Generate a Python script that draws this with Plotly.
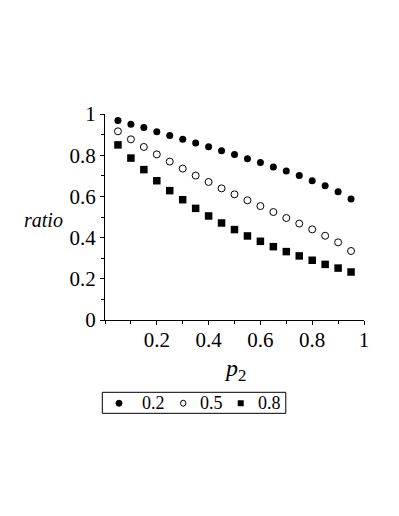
import plotly.graph_objects as go

p2 = [0.05, 0.10, 0.15, 0.20, 0.25, 0.30, 0.35, 0.40, 0.45, 0.50,
      0.55, 0.60, 0.65, 0.70, 0.75, 0.80, 0.85, 0.90, 0.95]

ratio_02 = [0.968, 0.950, 0.934, 0.914, 0.896, 0.877, 0.859, 0.841, 0.822, 0.804,
            0.783, 0.764, 0.743, 0.723, 0.701, 0.676, 0.652, 0.623, 0.587]
ratio_05 = [0.916, 0.877, 0.840, 0.804, 0.769, 0.735, 0.701, 0.670, 0.639, 0.610,
            0.581, 0.553, 0.524, 0.495, 0.468, 0.440, 0.409, 0.377, 0.335]
ratio_08 = [0.850, 0.786, 0.730, 0.676, 0.628, 0.584, 0.542, 0.505, 0.471, 0.439,
            0.408, 0.382, 0.356, 0.332, 0.311, 0.290, 0.270, 0.252, 0.233]

series_names = ["0.2", "0.5", "0.8"]

x_ticks = [0.2, 0.4, 0.6, 0.8, 1.0]
x_labels = ["0.2", "0.4", "0.6", "0.8", "1"]
y_ticks = [0, 0.2, 0.4, 0.6, 0.8, 1.0]
y_labels = ["0", "0.2", "0.4", "0.6", "0.8", "1"]

serif = "Liberation Serif, Times New Roman, serif"

fig = go.Figure()
fig.add_trace(go.Scatter(x=p2, y=ratio_02, mode="markers", name=series_names[0],
                         marker=dict(symbol="circle", size=7, color="black")))
fig.add_trace(go.Scatter(x=p2, y=ratio_05, mode="markers", name=series_names[1],
                         marker=dict(symbol="circle-open", size=7, color="black",
                                     line=dict(width=1))))
fig.add_trace(go.Scatter(x=p2, y=ratio_08, mode="markers", name=series_names[2],
                         marker=dict(symbol="square", size=7.5, color="black")))

# axis titles as annotations (y title is horizontal in the reference)
fig.add_annotation(text="<i>ratio</i>", xref="paper", yref="paper", x=-0.237, y=0.485,
                   xanchor="center", yanchor="middle",
                   showarrow=False, font=dict(family=serif, size=20, color="black"))
fig.add_annotation(text="<i>p</i><sub>2</sub>", xref="paper", yref="paper", x=0.5, y=-0.245,
                   xanchor="center", yanchor="middle",
                   showarrow=False, font=dict(family=serif, size=24, color="black"))

# legend drawn by hand (boxed, single row, compact like the original)
leg_y = -0.404
fig.add_shape(type="rect", xref="paper", yref="paper", x0=-0.0104, x1=0.698,
              y0=-0.453, y1=-0.351, line=dict(color="black", width=1), fillcolor="white")
sym = dict(xref="paper", yref="paper", xsizemode="pixel", ysizemode="pixel",
           yanchor=leg_y, y0=-3, y1=3)
fig.add_shape(type="circle", xanchor=0.054, x0=-3, x1=3,
              line=dict(color="black", width=1), fillcolor="black", **sym)
fig.add_shape(type="circle", xanchor=0.302, x0=-2.7, x1=2.7,
              line=dict(color="black", width=1), fillcolor="white", **sym)
fig.add_shape(type="rect", xanchor=0.524, x0=-3, x1=3,
              line=dict(color="black", width=0), fillcolor="black", **sym)
for name, xpos in zip(series_names, [0.189, 0.413, 0.637]):
    fig.add_annotation(text=name, xref="paper", yref="paper", x=xpos, y=leg_y,
                       xanchor="center", yanchor="middle",
                       showarrow=False, font=dict(family=serif, size=18, color="black"))

fig.update_layout(
    width=391, height=508,
    margin=dict(l=97, r=35, t=106, b=196),
    plot_bgcolor="white", paper_bgcolor="white",
    font=dict(family=serif, color="black"),
    showlegend=False,
    xaxis=dict(range=[0, 1.0], tickvals=x_ticks, ticktext=x_labels,
               showgrid=False, zeroline=False, showline=True, linecolor="black",
               linewidth=1, ticks="outside", ticklen=4, tickcolor="black",
               tickfont=dict(size=21), ticklabelstandoff=-3,
               minor=dict(dtick=0.1, tick0=0, ticks="outside", ticklen=3, tickcolor="black")),
    yaxis=dict(range=[0, 1.0], tickvals=y_ticks, ticktext=y_labels,
               showgrid=False, zeroline=False, showline=True, linecolor="black",
               linewidth=1, ticks="outside", ticklen=4, tickcolor="black",
               tickfont=dict(size=21),
               minor=dict(dtick=0.1, tick0=0, ticks="outside", ticklen=3, tickcolor="black")),
)

fig.write_html("out.html")
